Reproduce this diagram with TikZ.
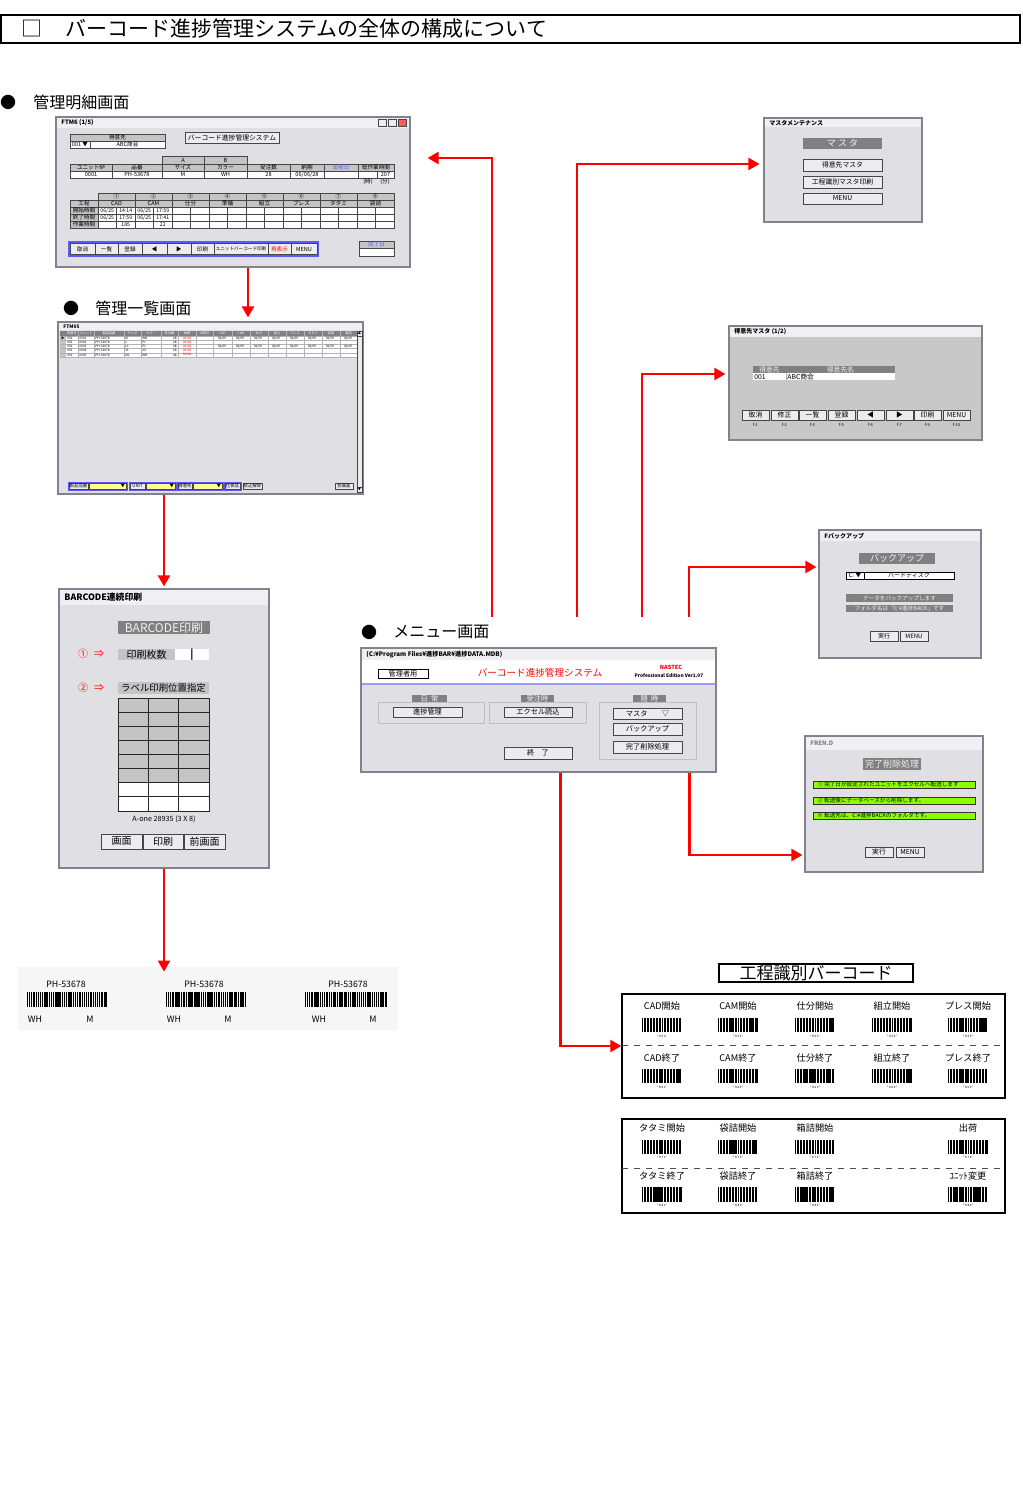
\documentclass[tikz,border=0pt]{standalone}
\usepackage{fontspec}
\setmainfont{Noto Sans CJK JP}
\usepackage{tikz}
\usetikzlibrary{positioning, arrows.meta, fit, calc}
\definecolor{winbg}{RGB}{224,223,228}
\definecolor{winedge}{RGB}{130,130,140}
\definecolor{titlebg}{RGB}{240,240,244}
\definecolor{darklab}{RGB}{128,128,128}
\definecolor{cellgray}{RGB}{196,196,196}
\definecolor{btnbg}{RGB}{236,236,240}
\definecolor{uiblue}{RGB}{90,90,255}
\definecolor{uiyellow}{RGB}{255,255,140}
\definecolor{uigreen}{RGB}{140,255,0}
\definecolor{stripbg}{RGB}{246,246,246}
\definecolor{formgray}{RGB}{200,200,200}
\newcommand{\fs}[1]{\fontsize{#1}{#1}\selectfont}
\newcommand{\uisize}{3.4}
\tikzset{
    uitext/.style={inner sep=0pt, font=\fs{\uisize}},
    winbox/.style={draw=winedge, fill=winbg, line width=0.6pt, inner sep=0pt},
    wintitle/.style={anchor=west, inner sep=0pt, font=\fs{3}\bfseries},
    btn/.style={uitext, draw=gray!55!black, fill=btnbg, line width=0.3pt},
    dark/.style={uitext, fill=darklab, text=gray!10},
    hdr/.style={uitext, draw=gray!55!black, fill=cellgray, line width=0.25pt},
    cell/.style={uitext, draw=gray!55!black, fill=white, line width=0.25pt},
    greenbar/.style={draw=gray!40!black, fill=uigreen, line width=0.3pt, inner sep=0pt},
    section/.style={anchor=west, inner sep=0pt, font=\fs{8}},
    bullet/.style={inner sep=0pt, font=\fs{8}},
    redarrow/.style={draw=red, line width=1.1pt, -{Triangle[length=5.5pt, width=6pt]}},
    bclabel/.style={inner sep=0pt, font=\fs{4.6}},
    bccode/.style={inner sep=0pt, font=\fs{1.5}},
    prlabel/.style={inner sep=0pt, font=\fs{4.4}}
}
% box of a form: [style]{name}{x1}{y1}{x2}{y2}{text}
\newcommand{\uibox}[7][btn]{%
  \node[#1, fit={(#3,#4) (#5,#6)}] (#2) {};
  \node[#1, draw=none, fill=none] (#2-t) at (#2.center) {#7};}
% title bar of a window
\newcommand{\wintitlebar}[6]{%
  \fill[titlebg] (#2,#3) rectangle (#4,#5);
  \node[wintitle] (#1) at ($(#2,#3)!0.5!(#2,#5)+(4,0)$) {#6};}
% bars of a barcode: {x1}{y1}{x2}{y2}{bars}{seed}
\newcommand{\barcode}[6]{%
  \pgfmathsetseed{#6}
  \foreach \bk in {1,...,#5}{
    \pgfmathsetmacro{\bx}{(#1)+(\bk-1)*((#3)-(#1))/(#5)}
    \pgfmathsetmacro{\bw}{(0.25+0.65*rnd)*((#3)-(#1))/(#5)}
    \fill (\bx,#2) rectangle ({\bx+\bw},#4);
  }}

\begin{document}
\begin{tikzpicture}[x=0.5pt, y=-0.5pt]
\useasboundingbox (0,0) rectangle (1022,1502);

% title
\node[draw, line width=0.6pt, inner sep=0pt, fit={(1,15) (1020,43)}] (title) {};
\node[inner sep=0pt, font=\fs{10.5}] (titlesq) at (32,29) {□};
\node[anchor=west, inner sep=0pt, font=\fs{10.5}] (titletext) at (65,29) {バーコード進捗管理システムの全体の構成について};

% 管理明細画面
\node[bullet] (b1) at (8,102) {●};
\node[section] (sec1) at (33,102) {管理明細画面};
\node[winbox, fit={(56,117) (410,267)}] (detail) {};
\wintitlebar{detailt}{57}{118}{409}{128}{FTM6 (1/5)}
\foreach \x/\wc [count=\i] in {378/btnbg, 388/btnbg, 398/red!65}
  {\node[btn, fill=\wc, fit={(\x,119.5) (\x+8,126.5)}] (wb\i) {};}
\begin{scope}
\renewcommand{\uisize}{2.8}
\uibox[hdr]{tok}{70}{134}{165}{141}{得意先}
\uibox[cell]{tokc}{70}{141}{90}{148}{001 ▼}
\uibox[cell]{tokn}{90}{141}{165}{148}{ABC商会}
\uibox[btn, font=\fs{3.4}]{sysb}{185}{132}{279}{143}{バーコード進捗管理システム}
\uibox[hdr]{ca}{162}{156}{204}{164}{A}
\uibox[hdr]{cb}{204}{156}{247}{164}{B}
\foreach \xa/\xb/\hd/\dv [count=\i] in {70/112/ユニット№/0001, 112/162/品番/PH-53678, 162/204/サイズ/M, 204/247/カラー/WH, 247/290/受注数/28, 290/324/納期/{06/06/28}, 324/358/{\color{uiblue}出荷日}/{}, 358/394/総作業時間/{}}
  {\uibox[hdr]{h\i}{\xa}{164}{\xb}{171}{\hd}
   \uibox[cell]{d\i}{\xa}{171}{\xb}{178}{\dv}}
\uibox[cell]{d9}{377}{171}{394}{178}{207}
\node[uitext] (uh) at (368,182) {(時)};
\node[uitext] (um) at (385,182) {(分)};
\foreach \nm/\pr [count=\bk] in {①/CAD, ②/CAM, ③/仕分, ④/準備, ⑤/組立, ⑥/プレス, ⑦/タタミ, ⑧/袋詰}
  {\pgfmathsetmacro{\xa}{98+37*(\bk-1)}
   \uibox[hdr]{pn\bk}{\xa}{193}{\xa+37}{200}{\nm}
   \uibox[hdr]{pp\bk}{\xa}{200}{\xa+37}{207}{\pr}
   \foreach \ya [count=\rr] in {207,214,221}
     {\uibox[cell]{pa\bk-\rr}{\xa}{\ya}{\xa+18.5}{\ya+7}{}
      \uibox[cell]{pb\bk-\rr}{\xa+18.5}{\ya}{\xa+37}{\ya+7}{}}}
\foreach \tx/\ya [count=\rr] in {工程/200, 開始時間/207, 終了時間/214, 作業時間/221}
  {\uibox[hdr]{rl\rr}{70}{\ya}{98}{\ya+7}{\tx}}
\foreach \x/\y/\tx [count=\i] in {107.25/210.5/{06/25}, 125.75/210.5/14:14, 144.25/210.5/{06/25}, 162.75/210.5/17:59, 107.25/217.5/{06/25}, 125.75/217.5/17:59, 144.25/217.5/{06/25}, 162.75/217.5/17:41, 125.75/224.5/185, 162.75/224.5/22}
  {\node[uitext, font=\fs{2.6}] (tv\i) at (\x,\y) {\tx};}
\node[draw=uiblue, line width=0.6pt, inner sep=0pt, fit={(69,242) (318,256)}] (bbar) {};
\foreach \xa/\xb/\tx [count=\i] in {70/95/取消, 95/118/一覧, 118/142/登録, 142/167/◀, 167/191/▶, 191/214/印刷, 214/268/{\fs{2.3}ユニットバーコード印刷}, 268/291/{\color{red}再表示}, 291/317/MENU}
  {\uibox[btn]{bb\i}{\xa}{243.5}{\xb}{254.5}{\tx}}
\uibox[hdr]{kd}{359}{241}{394}{248}{\color{uiblue}完了日}
\uibox[cell]{kdv}{359}{248}{394}{256}{}
\end{scope}

% 管理一覧画面
\node[bullet] (b2) at (71,308) {●};
\node[section] (sec2) at (95,308) {管理一覧画面};
\node[winbox, fit={(58,322) (363,494)}] (list) {};
\wintitlebar{listt}{59}{323}{362}{330}{\fs{2.4}FTM05}
\begin{scope}
\renewcommand{\uisize}{1.6}
\fill[darklab] (60,331) rectangle (357,336);
\fill[white] (66,336) rectangle (357,357);
\fill[cellgray] (60,336) rectangle (66,357);
\foreach \xa/\xb/\tx [count=\i] in {66/78/得意先, 78/94/ユニット, 94/124/製品品番, 124/141/サイズ, 141/161/カラー, 161/178/受注数, 178/196/納期, 196/213/出荷日, 213/232/CAD, 232/250/CAM, 250/268/仕分, 268/286/組立, 286/304/プレス, 304/322/タタミ, 322/340/袋詰, 340/357/箱詰}
  {\node[uitext, text=white] (lh\i) at ({(\xa+\xb)/2},333.5) {\tx};
   \draw[gray!60, line width=0.2pt] (\xb,331) -- (\xb,357);}
\foreach \ya in {336,340.2,344.4,348.6,352.8,357}
  {\draw[gray!60, line width=0.2pt] (60,\ya) -- (357,\ya);}
\node[uitext] (lmark) at (63,338.1) {▶};
\foreach \un/\sz/\co/\qt [count=\rr] in {0001/M/WH/28, 0002/L/PJ/28, 0003/LL/PJ/48, 0004/3L/SX/58, 0005/ML/WH/48}
  {\pgfmathsetmacro{\ya}{338.1+4.2*(\rr-1)}
   \node[uitext, anchor=west] (lr\rr a) at (67,\ya) {001};
   \node[uitext, anchor=west] (lr\rr b) at (79,\ya) {\un};
   \node[uitext, anchor=west] (lr\rr c) at (95,\ya) {PH-53678};
   \node[uitext, anchor=west] (lr\rr d) at (125,\ya) {\sz};
   \node[uitext, anchor=west] (lr\rr e) at (142,\ya) {\co};
   \node[uitext, anchor=east] (lr\rr f) at (177,\ya) {\qt};
   \node[uitext, text=red] (lr\rr g) at (187,\ya) {06/28};}
\foreach \rr in {1,3}
  {\foreach \xa [count=\j] in {213,231,...,339}
    {\node[uitext] (ld\rr-\j) at ({\xa+9},{338.1+4.2*(\rr-1)}) {06/09};}}
\uibox[btn, fill=winbg!60!white]{sbar}{357}{331}{362}{492}{}
\uibox[btn]{sup}{357}{331}{362}{336}{▲}
\uibox[btn]{sdn}{357}{487}{362}{492}{▼}
\renewcommand{\uisize}{2.2}
\foreach \xa/\xb [count=\i] in {68/127, 129/176, 177/223, 224/241}
  {\node[draw=uiblue, line width=0.5pt, inner sep=0pt, fit={(\xa,482) (\xb,490.5)}] (lg\i) {};}
\foreach \xa/\xb/\tx [count=\i] in {69/88/製品品番, 130/145/UNIT, 178/192/得意先, 225/240/仕掛品, 243/262/絞込解除, 335/353/前画面}
  {\uibox[btn]{lb\i}{\xa}{483}{\xb}{489.5}{\tx}}
\foreach \xa/\xb [count=\i] in {89/126, 146/175, 193/222}
  {\uibox[btn, fill=uiyellow]{lc\i}{\xa}{483}{\xb}{489.5}{}
   \node[uitext, anchor=east] (lv\i) at (\xb-0.5,486.2) {▼};}
\end{scope}

% BARCODE連続印刷
\node[winbox, fit={(59,589) (269,868)}] (bcwin) {};
\wintitlebar{bcwint}{60}{590}{268}{605}{\fs{4.4}BARCODE連続印刷}
\begin{scope}
\renewcommand{\uisize}{5}
\uibox[dark, font=\fs{6}]{bcl}{118}{621}{210}{634}{BARCODE印刷}
\node[uitext, text=red] (c1) at (83,654) {①};
\node[uitext, text=red] (a1) at (99,654) {⇒};
\uibox[hdr, draw=none]{pcnt}{118}{649}{175}{660}{印刷枚数}
\uibox[cell, draw=none]{pval}{175}{649}{209}{660}{\textbf{|}}
\node[uitext, text=red] (c2) at (83,688) {②};
\node[uitext, text=red] (a2) at (99,688) {⇒};
\uibox[hdr, draw=none, font=\fs{4.7}]{ppos}{118}{682}{209}{694}{ラベル印刷位置指定}
\foreach \rr in {1,...,8}
  {\pgfmathsetmacro{\ya}{698+14.125*(\rr-1)}
   \ifnum\rr<7 \def\gc{cellgray}\else\def\gc{white}\fi
   \foreach \cc in {1,2,3}
     {\pgfmathsetmacro{\xa}{118+91/3*(\cc-1)}
      \node[cell, fill=\gc, draw=gray!30!black, line width=0.5pt, fit={(\xa,\ya) (\xa+91/3,\ya+14.125)}] (g\rr-\cc) {};}}
\node[uitext, font=\fs{3.6}] (aone) at (164,819) {A-one 28935 (3 X 8)};
\uibox[btn]{bs1}{101}{834}{142}{849}{画面}
\uibox[btn]{bs2}{143}{834}{183}{849}{印刷}
\uibox[btn]{bs3}{184}{834}{225}{849}{前画面}
\end{scope}

% label print
\node[fill=stripbg, inner sep=0pt, fit={(18,967) (398,1030)}] (labels) {};
\foreach \cx/\bl/\br/\wx/\mx [count=\i] in {66/27/108/35/90, 204/166/247/174/228, 348/305/387/319/373}
  {\node[prlabel] (ph\i) at (\cx,984) {PH-53678};
   \barcode{\bl}{992}{\br}{1007}{44}{1\i}
   \node[prlabel] (wh\i) at (\wx,1019) {WH};
   \node[prlabel] (mm\i) at (\mx,1019) {M};}

% メニュー画面
\node[bullet] (b3) at (369,632) {●};
\node[section] (sec3) at (393,632) {メニュー画面};
\node[winbox, fit={(361,648) (716,772)}] (menu) {};
\wintitlebar{menut}{362}{649}{715}{660}{\fs{3.1}(C:¥Program Files¥進捗BAR¥進捗DATA.MDB)}
\fill[white] (362,660) rectangle (715,684);
\draw[uiblue!60, line width=0.6pt] (362,684) -- (715,684);
\begin{scope}
\renewcommand{\uisize}{3.6}
\uibox[btn, fill=white, draw=black, line width=0.5pt]{admin}{378}{669}{428}{678}{管理者用}
\node[uitext, text=red, font=\fs{4.8}] (msys) at (540,673) {バーコード進捗管理システム};
\node[uitext, text=red, font=\fs{2.8}\bfseries] (mnas) at (671,667.5) {NASTEC};
\node[uitext, font=\fs{2.4}\bfseries] (mver) at (669,676) {Professional Edition Ver1.07};
\foreach \xa/\xb/\yb [count=\i] in {378/484/723, 489/586/723, 599/696/759}
  {\node[draw=gray!50, line width=0.5pt, inner sep=0pt, fit={(\xa,702) (\xb,\yb)}] (grp\i) {};}
\uibox[dark]{gl1}{412}{695}{447}{702}{日\ \ 常}
\uibox[dark]{gl2}{521}{695}{554}{702}{受注時}
\uibox[dark]{gl3}{633}{695}{666}{702}{随\ \ 時}
\uibox[btn]{mb1}{393}{707}{462}{717}{進捗管理}
\uibox[btn]{mb2}{504}{707}{572}{717}{エクセル読込}
\uibox[btn]{mb3}{613}{708}{682}{719}{マスタ\qquad ▽}
\uibox[btn]{mb4}{613}{723}{682}{735}{バックアップ}
\uibox[btn]{mb5}{613}{741}{682}{753}{完了削除処理}
\uibox[btn]{mb6}{504}{747}{572}{759}{終\quad 了}
\end{scope}

% マスタメンテナンス
\node[winbox, fit={(764,118) (922,222)}] (master) {};
\wintitlebar{mastert}{765}{119}{921}{127}{マスタメンテナンス}
\uibox[dark, font=\fs{4.5}]{mlab}{803}{138}{882}{149}{マ\ ス\ タ}
\uibox[btn]{ms1}{803}{159}{882}{171}{得意先マスタ}
\uibox[btn]{ms2}{803}{176}{882}{188}{工程識別マスタ印刷}
\uibox[btn]{ms3}{803}{193}{882}{204}{MENU}

% 得意先マスタ
\node[winbox, fill=formgray, fit={(729,326) (982,440)}] (tokui) {};
\wintitlebar{tokuit}{730}{327}{981}{337}{得意先マスタ (1/2)}
\uibox[dark]{th1}{753}{366}{786}{373}{得意先}
\uibox[dark]{th2}{786}{366}{895}{373}{得意先名}
\fill[white] (753,373) rectangle (895,380.5);
\draw[gray!60, line width=0.25pt] (786,373) -- (786,380.5);
\node[uitext, anchor=west] (td1) at (754,376.8) {001};
\node[uitext, anchor=west] (td2) at (787,376.8) {ABC商会};
\foreach \xa/\tx/\fk [count=\i] in {742/取消/f-1, 771/修正/f-2, 799/一覧/f-3, 828/登録/f-5, 857/◀/f-6, 886/▶/f-7, 914/印刷/f-9, 943/MENU/f-10}
  {\uibox[btn]{tb\i}{\xa}{410}{\xa+27}{420}{\tx}
   \node[uitext, font=\fs{2}] (tf\i) at ({\xa+13.5},424.5) {\fk};}

% バックアップ
\node[winbox, fit={(819,530) (981,658)}] (backup) {};
\wintitlebar{backupt}{820}{531}{980}{541}{Fバックアップ}
\begin{scope}
\renewcommand{\uisize}{3}
\uibox[dark, font=\fs{4.5}]{blab}{859}{553}{935}{564}{バックアップ}
\uibox[cell, draw=black]{bdrv}{846}{572}{864}{579}{C: ▼}
\uibox[cell, draw=black]{bdsk}{864}{572}{954}{579}{ハードディスク}
\uibox[dark, font=\fs{2.8}]{bm1}{846}{594}{953}{602}{データをバックアップします}
\uibox[dark, font=\fs{2.8}]{bm2}{846}{605}{953}{612}{フォルダ名は「C:¥進捗BACK」です}
\uibox[btn]{bk1}{870}{631}{898}{641}{実行}
\uibox[btn]{bk2}{900}{631}{928}{641}{MENU}
\end{scope}

% 完了削除処理
\node[winbox, fit={(805,736) (983,872)}] (kanryo) {};
\wintitlebar{kanryot}{806}{737}{982}{750}{\color{gray}FREN.D}
\uibox[dark, font=\fs{4.5}]{klab}{863}{758}{921}{770}{完了削除処理}
\foreach \ya/\tx [count=\i] in {781/① 完了日が設定されたユニットをエクセルへ転送します, 797/② 転送後にデータベースから削除します。, 812/※ 転送先は、C:¥進捗BACKのフォルダです。}
  {\node[greenbar, fit={(813,\ya) (975,\ya+7)}] (kg\i) {};
   \node[inner sep=0pt, anchor=west, font=\fs{2.8}] (kt\i) at (817,\ya+3.5) {\tx};}
\uibox[btn]{kb1}{865}{847}{893}{857}{実行}
\uibox[btn]{kb2}{896}{847}{924}{857}{MENU}

% 工程識別バーコード
\uibox[draw, fill=white, line width=0.6pt, inner sep=0pt, font=\fs{8.5}]{bctitle}{719}{964}{913}{982}{工程識別バーコード}
\node[draw, line width=0.7pt, inner sep=0pt, fit={(622,994) (1005,1098)}] (bctab) {};
\draw[dashed, gray!60!black, line width=0.4pt] (622,1045) -- (1005,1045);
\foreach \cx/\ta/\tb [count=\i] in {662/CAD開始/CAD終了, 738/CAM開始/CAM終了, 815/仕分開始/仕分終了, 892/組立開始/組立終了, 968/プレス開始/プレス終了}
  {\node[bclabel] (ka\i) at (\cx,1006) {\ta};
   \barcode{\cx-20}{1018}{\cx+20}{1032}{26}{2\i}
   \node[bccode] (kc\i) at (\cx,1036) {* K 5 \i *};
   \node[bclabel] (ke\i) at (\cx,1058) {\tb};
   \barcode{\cx-20}{1069}{\cx+20}{1083}{26}{3\i}
   \node[bccode] (kf\i) at (\cx,1087) {* K 6 \i *};}
\node[draw, line width=0.7pt, inner sep=0pt, fit={(622,1119) (1005,1213)}] (bctab2) {};
\draw[dashed, gray!60!black, line width=0.4pt] (622,1168) -- (1005,1168);
\foreach \cx/\ta/\tb [count=\i] in {662/タタミ開始/タタミ終了, 738/袋詰開始/袋詰終了, 815/箱詰開始/箱詰終了, 968/出荷/ﾕﾆｯﾄ変更}
  {\node[bclabel] (sa\i) at (\cx,1128) {\ta};
   \barcode{\cx-20}{1140}{\cx+20}{1154}{26}{4\i}
   \node[bccode] (sc\i) at (\cx,1157.5) {* K 7 \i *};
   \node[bclabel] (se\i) at (\cx,1176) {\tb};
   \barcode{\cx-20}{1187}{\cx+20}{1202}{26}{5\i}
   \node[bccode] (sf\i) at (\cx,1205.5) {* K 8 \i *};}

% arrows
\coordinate (d1) at ($(detail.south)+(15,0)$);
\draw[redarrow, shorten >=2pt] (d1) -- (d1 |- list.north);
\draw[redarrow, shorten >=1pt] (list.south -| bcwin.north) -- (bcwin.north);
\draw[redarrow, shorten >=-2.5pt] (bcwin.south) -- (bcwin.south |- labels.north);
\coordinate (m1) at (492,617);
\coordinate (m2) at (577,617);
\coordinate (m3) at (642,617);
\coordinate (m4) at (689,617);
\coordinate (m5) at ($(menu.south west)+(200,0)$);
\coordinate (m6) at ($(menu.south west)+(329,0)$);
\draw[redarrow, shorten >=8.5pt] (m1) |- ($(detail.east)+(0,-34)$);
\draw[redarrow, shorten >=2pt] (m2) |- ($(master.west)+(0,-6)$);
\draw[redarrow, shorten >=1.5pt] (m3) |- ($(tokui.west)+(0,-9)$);
\draw[redarrow, shorten >=1pt] (m4) |- ($(backup.west)+(0,-27)$);
\draw[redarrow, shorten >=1pt] (m6) |- ($(kanryo.west)+(0,51)$);
\draw[redarrow] (m5) |- (bctab.west);
\end{tikzpicture}
\end{document}
